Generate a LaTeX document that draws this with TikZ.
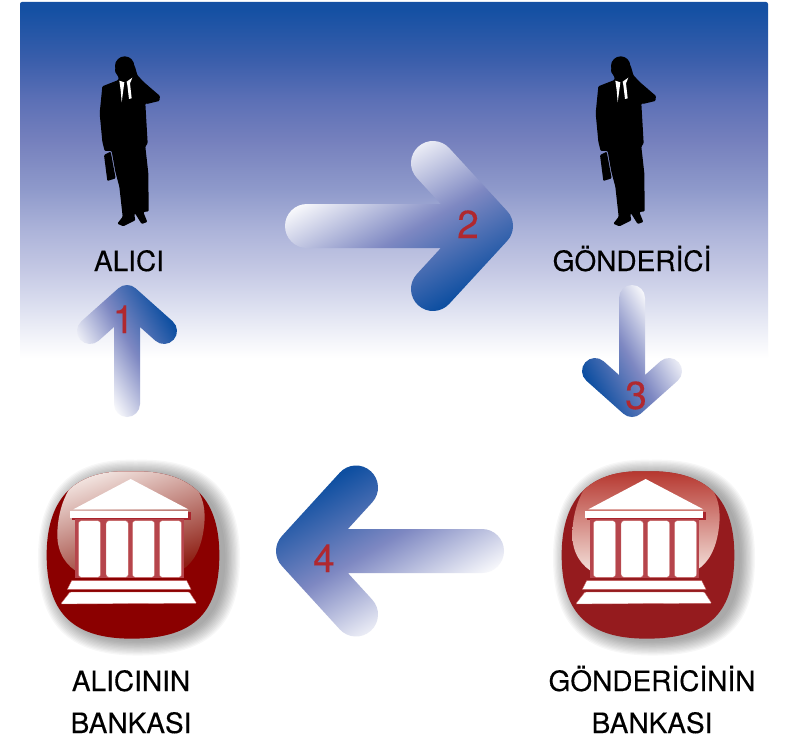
\documentclass[tikz,border=0pt]{standalone}
\usepackage{fontspec}
\setmainfont[FakeBold=0.25]{TeX Gyre Heros}
\definecolor{bgA}{HTML}{1450A3}
\definecolor{bgB}{HTML}{3A5EAB}
\definecolor{bgC}{HTML}{5C70B6}
\definecolor{bgD}{HTML}{7580BD}
\definecolor{bgE}{HTML}{8F9ACB}
\definecolor{bgF}{HTML}{ACB3D9}
\definecolor{bgG}{HTML}{C4C8E4}
\definecolor{bgH}{HTML}{DFE2F1}
\definecolor{bgI}{HTML}{F4F5FA}
\definecolor{arrMid}{HTML}{7E88C2}
\definecolor{arrDark}{HTML}{0E4FA1}
\definecolor{numRed}{HTML}{B0282F}
\definecolor{bankL}{HTML}{8B0000}
\definecolor{bankR}{HTML}{951B1E}
\definecolor{glossLt}{HTML}{F3E6E2}
\definecolor{glossLd}{HTML}{8E1F14}
\definecolor{glossRt}{HTML}{B5342C}
\definecolor{glossRd}{HTML}{F4E2DC}
\definecolor{templeEdge}{HTML}{C4605F}
\definecolor{templeShadow}{HTML}{A9242C}
\pgfdeclareverticalshading{bggrad}{100bp}{color(0bp)=(white);color(25bp)=(white);color(27.5bp)=(bgI);color(31.7bp)=(bgH);color(37.4bp)=(bgG);color(43bp)=(bgF);color(48.6bp)=(bgE);color(55.6bp)=(bgD);color(61.2bp)=(bgC);color(66.9bp)=(bgB);color(74bp)=(bgA);color(100bp)=(bgA)}
\pgfdeclarehorizontalshading{arrowgrad}{400bp}{color(0bp)=(white);color(82bp)=(arrMid);color(163bp)=(arrDark);color(400bp)=(arrDark)}
\tikzset{
  label text/.style={font=\fontsize{28}{42}\selectfont,text=black,align=center,anchor=base,inner sep=0pt},
  step number/.style={font=\fontsize{39}{42}\selectfont,text=numRed,anchor=base,inner sep=0pt},
  silhouette/.style={fill=black,rounded corners=1pt},
  temple part/.style={fill=white,draw=templeEdge,line width=.35pt}
}
% cx cy rot L a b r gradient-scale
\newcommand{\BigArrow}[8]{%
 \begin{scope}[shift={(#1,#2)},y=1pt,rotate=#3]
  \pgfmathsetmacro{\arTh}{atan2(#6,#5)}
  \pgfmathsetmacro{\arSn}{sin(\arTh)}
  \pgfmathsetmacro{\arCs}{cos(\arTh)}
  \pgfmathsetmacro{\arIx}{-#7*(1+\arCs)/\arSn*\arCs-#7*\arSn}
  \pgfmathsetmacro{\arDx}{#7*\arSn}
  \pgfmathsetmacro{\arDy}{#7*\arCs}
  \clip (-#4,#7) -- (\arIx,#7) -- ({-#5-\arDx},{#6-\arDy})
    arc[start angle={270-\arTh},end angle={90-\arTh},radius=#7]
    -- (\arDx,\arDy)
    arc[start angle={90-\arTh},end angle={\arTh-90},radius=#7]
    -- ({-#5+\arDx},{-#6-\arDy})
    arc[start angle={\arTh-90},end angle={\arTh-270},radius=#7]
    -- (\arIx,-#7) -- (-#4,-#7)
    arc[start angle=270,end angle=90,radius=#7] -- cycle;
  \begin{pgfscope}
   \pgftransformrotate{-60}
   \pgftransformscale{#8}
   \pgftransformshift{\pgfpoint{82bp}{0bp}}
   \pgflowlevelsynccm
   \pgfuseshading{arrowgrad}
  \end{pgfscope}
 \end{scope}}
\newcommand{\Person}[2]{%
 \begin{scope}[shift={(#1,#2)},scale=1/3]
  \fill[silhouette] (72,345) -- (92,335) -- (107,415) -- (82,423) -- cycle;
  \fill (134,78) ellipse[x radius=29,y radius=29];
  \fill[silhouette] (130,50) -- (150,58) -- (165,80) -- (172,105) -- (190,125) -- (240,168) -- (238,183) -- (200,192) -- (196,190)
   -- (203,310) -- (196,320) -- (205,400) -- (206,514) -- (190,516) -- (202,546) -- (185,552) -- (165,520) -- (163,525) -- (166,541) -- (130,559) -- (112,551) -- (128,530) -- (118,440) -- (106,395) -- (95,333) -- (74,333) -- (67,305) -- (59,220) -- (67,139) -- (115,120) -- (116,112) -- (105,95) -- (108,65) -- cycle;
  \fill[white] (118,122) -- (133,127) -- (125,187) -- (122,150) -- cycle;
  \fill[white] (140,125) -- (157,113) -- (150,130) -- (155,175) -- (147,177) -- (142,135) -- cycle;
 \end{scope}}
% x-shift, body colour, gloss start, gloss end, gloss angle
\newcommand{\Bank}[5]{%
 \begin{scope}[shift={(#1,460)},scale=1/3]
  \def\squircle{(300,34) .. controls (500,28) and (568,130) .. (568,285) .. controls (568,450) and (500,536) .. (305,536) .. controls (120,536) and (50,450) .. (50,285) .. controls (50,130) and (120,28) .. (300,34) -- cycle}
  \foreach \k in {1.17,1.155,1.14,1.125,1.11,1.095,1.08,1.065,1.05,1.035,1.02,1.0}{
    \fill[black,opacity=.032,shift={(327,293)},scale=\k,shift={(-309,-285)}] \squircle;}
  \fill[#2] \squircle;
  \begin{scope}
   \clip \squircle;
   \shade[top color=#3,bottom color=#4,shading angle=#5] (200,30) .. controls (320,28) and (440,34) .. (490,75) .. controls (520,105) and (528,150) .. (522,200) .. controls (515,265) and (490,310) .. (455,330) -- (150,340) .. controls (110,320) and (82,280) .. (82,225) .. controls (82,140) and (120,40) .. (200,30) -- cycle;
  \end{scope}
  % temple
  \fill[templeShadow] (125,155) rectangle (483,181);
  \fill[templeShadow!85!white] (135,178) rectangle (462,360);
  \fill[white] (130,148) -- (302,57) -- (475,148) -- cycle;
  \fill[white] (120,152) rectangle (475,175);
  \foreach \cx in {145,228,307,388}{
   \draw[temple part,rounded corners=3pt] (\cx,182) rectangle ++(67,170);}
  \fill[#2] (112,354) rectangle (485,360);
  \draw[temple part] (125,362) -- (470,362) -- (483,388) -- (112,388) -- cycle;
  \draw[temple part,rounded corners=1pt] (120,396) -- (478,396) -- (500,430) -- (92,432) -- cycle;
 \end{scope}}
\begin{document}
\begin{tikzpicture}[x=1pt,y=-1pt]
\useasboundingbox (0,0) rectangle (786,738);
\fill[white] (0,0) rectangle (786,738);
\shade[shading=bggrad,rounded corners=2pt] (20,2) rectangle (768,358);
\Person{80}{40}
\Person{576}{40}
\BigArrow{491}{226}{0}{184}{58}{63}{22}{1}
\BigArrow{632}{404}{-90}{106}{33}{37}{13}{.58}
\BigArrow{298}{551}{180}{184}{58}{63.5}{22}{1}
\BigArrow{127}{298}{90}{106}{33}{37}{13}{.58}
\node[step number] (n1) at (123.5,333) {1};
\node[step number] (n2) at (468,238) {2};
\node[step number] (n3) at (636,409) {3};
\node[step number] (n4) at (324,572) {4};
\Bank{30}{bankL}{glossLt}{glossLd}{20}
\Bank{545}{bankR}{glossRt}{glossRd}{0}
\node[label text] (alici) at (129,271) {ALICI};
\node[label text] (gonderici) at (632,271) {GÖNDERİCİ};
\node[label text] (alicibank) at (131,733) {ALICININ\\BANKASI};
\node[label text] (gonderibank) at (652,733) {GÖNDERİCİNİN\\BANKASI};
\end{tikzpicture}
\end{document}
